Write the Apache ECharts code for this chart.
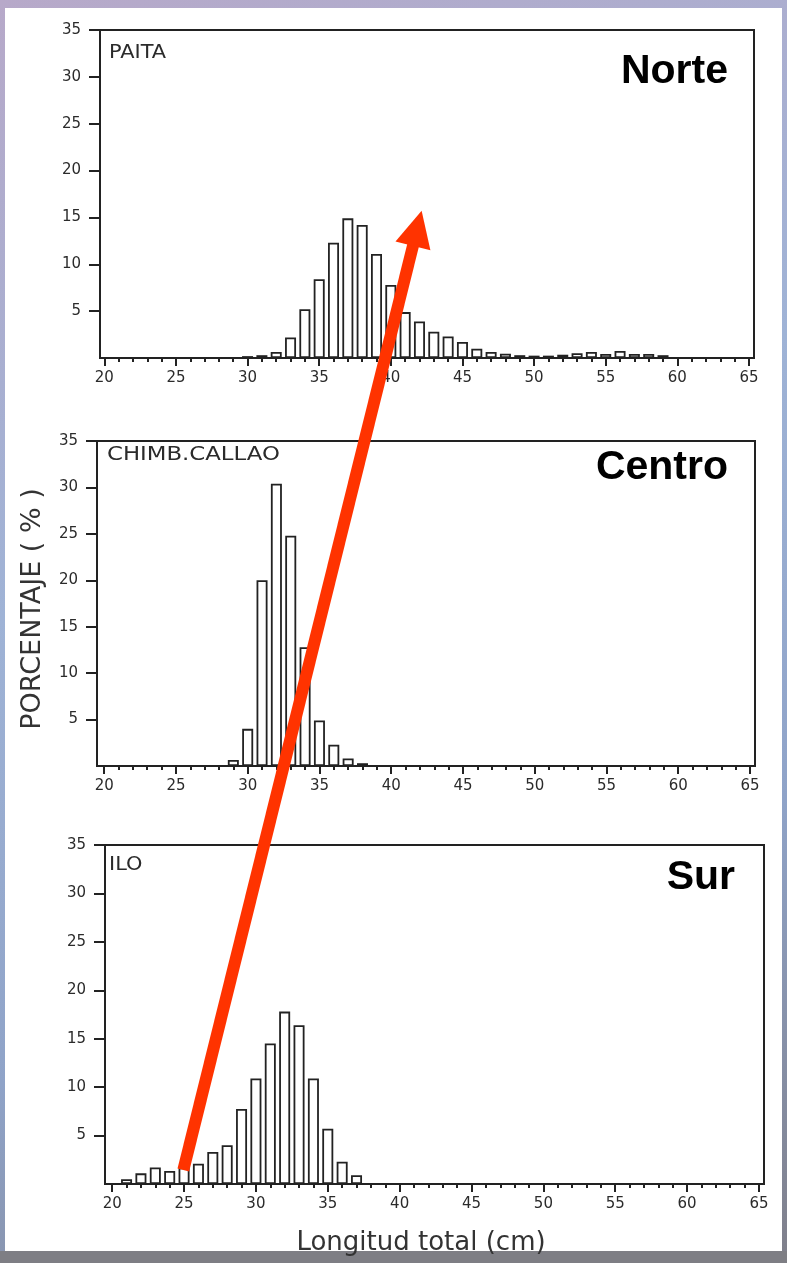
<!DOCTYPE html>
<html>
<head>
<meta charset="utf-8">
<script src="https://cdn.jsdelivr.net/npm/echarts@6/dist/echarts.min.js"></script>
<style>
  html, body { margin: 0; padding: 0; }
  body { width: 787px; height: 1263px; overflow: hidden;
         background: linear-gradient(160deg, #b7a9c9 0%, #9fb3d6 40%, #8fa3c8 70%, #7f7f8a 100%); }
  #chart { width: 787px; height: 1263px; }
</style>
</head>
<body>
<div id="chart"></div>
<script>
// ---------- data ----------
const panelNames = ['PAITA', 'CHIMB.CALLAO', 'ILO'];
const regionNames = ['Norte', 'Centro', 'Sur'];
const yTitle = 'PORCENTAJE ( % )';
const xTitle = 'Longitud total (cm)';
const xTickLabels = [20, 25, 30, 35, 40, 45, 50, 55, 60, 65];
const yTickLabels = [5, 10, 15, 20, 25, 30, 35];

const paitaLengths = [30, 31, 32, 33, 34, 35, 36, 37, 38, 39, 40, 41, 42, 43, 44, 45, 46, 47, 48, 49, 50, 51, 52, 53, 54, 55, 56, 57, 58, 59];
const paitaPct     = [0.2, 0.3, 0.65, 2.2, 5.2, 8.4, 12.3, 14.9, 14.2, 11.1, 7.8, 4.9, 3.9, 2.8, 2.3, 1.7, 1.0, 0.65, 0.45, 0.3, 0.25, 0.25, 0.35, 0.5, 0.65, 0.42, 0.75, 0.42, 0.42, 0.3];

const callaoLengths = [29, 30, 31, 32, 33, 34, 35, 36, 37, 38];
const callaoPct     = [0.65, 4.0, 20.0, 30.4, 24.8, 12.8, 4.9, 2.3, 0.8, 0.3];

const iloLengths = [21, 22, 23, 24, 25, 26, 27, 28, 29, 30, 31, 32, 33, 34, 35, 36, 37];
const iloPct     = [0.5, 1.1, 1.7, 1.35, 1.7, 2.1, 3.3, 4.0, 7.75, 10.9, 14.5, 17.8, 16.4, 10.9, 5.7, 2.3, 0.9];

// arrow annotation anchors, in data units of the bottom (ILO) and top (PAITA) panels
const arrowTail = [24.95, 1.45];
const arrowTip = [42.15, 15.7];

// ---------- layout ----------
const ink = '#222222';
const lw = 2;
const grids = [
  { left: 100, top: 30,  width: 654, height: 328, xmin: 19.7 },
  { left: 97,  top: 441, width: 658, height: 325, xmin: 19.5 },
  { left: 105, top: 845, width: 659, height: 339, xmin: 19.5 }
];
const seriesData = [
  paitaLengths.map((x, i) => [x, paitaPct[i]]),
  callaoLengths.map((x, i) => [x, callaoPct[i]]),
  iloLengths.map((x, i) => [x, iloPct[i]])
];
const minorTicks = [];
for (let v = 20; v <= 65; v++) minorTicks.push(v);

const font = '"DejaVu Sans", sans-serif';
const option = {
  backgroundColor: 'transparent',
  animation: false,
  grid: grids.map(g => ({ left: g.left, top: g.top, width: g.width, height: g.height,
    show: true, borderColor: ink, borderWidth: lw, backgroundColor: 'transparent' })),
  xAxis: [],
  yAxis: [],
  series: [],
  graphic: []
};

grids.forEach((g, i) => {
  option.xAxis.push({
    type: 'value', gridIndex: i, min: g.xmin, max: 65.35, position: 'bottom',
    axisLine: { show: true, onZero: false, lineStyle: { color: ink, width: lw } },
    axisTick: { show: true, customValues: xTickLabels, length: 8, lineStyle: { color: ink, width: lw } },
    axisLabel: { show: true, customValues: xTickLabels, margin: 13, color: '#2b2b2b', fontSize: 15, fontFamily: font },
    splitLine: { show: false }
  });
  option.xAxis.push({
    type: 'value', gridIndex: i, min: g.xmin, max: 65.35, position: 'bottom', offset: 0,
    axisLine: { show: false },
    axisTick: { show: true, customValues: minorTicks, length: 4, lineStyle: { color: ink, width: lw } },
    axisLabel: { show: false },
    splitLine: { show: false }
  });
  option.yAxis.push({
    type: 'value', gridIndex: i, min: 0, max: 35, interval: 5,
    axisLine: { show: true, lineStyle: { color: ink, width: lw } },
    axisTick: { show: true, length: 11, lineStyle: { color: ink, width: lw } },
    axisLabel: { show: true, showMinLabel: false, margin: 19, color: '#2b2b2b', fontSize: 15, fontFamily: font },
    splitLine: { show: false }
  });
  option.series.push({
    type: 'bar', xAxisIndex: i * 2, yAxisIndex: i, data: seriesData[i], barWidth: 11,
    itemStyle: { color: '#ffffff', borderColor: ink, borderWidth: 1.8 },
    silent: true
  });
});

const chart = echarts.init(document.getElementById('chart'), null, { renderer: 'canvas' });

const boldFont = 'bold 41px "Liberation Sans", Arial, sans-serif';
const staticGraphics = [
  { type: 'rect', z: -10, shape: { x: 5, y: 8, width: 777, height: 1243 }, style: { fill: '#ffffff' } },
  { type: 'rect', z: -10, shape: { x: 0, y: 1251, width: 787, height: 12 }, style: { fill: '#7e7e84' } },
  // panel titles
  { type: 'text', x: 109, y: 53, scaleX: 1.1, style: { text: panelNames[0], font: '19px ' + font, fill: '#2b2b2b', verticalAlign: 'middle' } },
  { type: 'text', x: 107, y: 455, scaleX: 1.2, style: { text: panelNames[1], font: '19px ' + font, fill: '#2b2b2b', verticalAlign: 'middle' } },
  { type: 'text', x: 109, y: 865, scaleX: 1.1, style: { text: panelNames[2], font: '19px ' + font, fill: '#2b2b2b', verticalAlign: 'middle' } },
  // region names
  { type: 'text', right: 59, top: 51, style: { text: regionNames[0], font: boldFont, fill: '#000' } },
  { type: 'text', right: 59, top: 447, style: { text: regionNames[1], font: boldFont, fill: '#000' } },
  { type: 'text', right: 52, top: 857, style: { text: regionNames[2], font: boldFont, fill: '#000' } },
  // axis titles
  { type: 'text', x: 33, y: 609, rotation: Math.PI / 2,
    style: { text: yTitle, font: '27px ' + font, fill: '#333', align: 'center', verticalAlign: 'middle' } },
  { type: 'text', x: 421, y: 1243,
    style: { text: xTitle, font: '26px ' + font, fill: '#333', align: 'center', verticalAlign: 'middle' } }
];
option.graphic = staticGraphics;
chart.setOption(option);

// arrow from the ILO panel to the PAITA panel, anchored in data coordinates
const p0 = chart.convertToPixel({ gridIndex: 2 }, arrowTail);
const p1 = chart.convertToPixel({ gridIndex: 0 }, arrowTip);
const dx = p1[0] - p0[0], dy = p1[1] - p0[1];
const len = Math.sqrt(dx * dx + dy * dy);
const ux = dx / len, uy = dy / len;
const headLen = 36, headHalf = 18;
const base = [p1[0] - ux * headLen, p1[1] - uy * headLen];
const red = '#ff3300';
chart.setOption({
  graphic: staticGraphics.concat([
    { type: 'line', z: 50, shape: { x1: p0[0], y1: p0[1], x2: base[0] + ux * 2, y2: base[1] + uy * 2 },
      style: { stroke: red, lineWidth: 12, lineCap: 'butt' } },
    { type: 'polygon', z: 50, shape: { points: [
        [p1[0], p1[1]],
        [base[0] - uy * headHalf, base[1] + ux * headHalf],
        [base[0] + uy * headHalf, base[1] - ux * headHalf]
      ] }, style: { fill: red } }
  ])
});
</script>
</body>
</html>
